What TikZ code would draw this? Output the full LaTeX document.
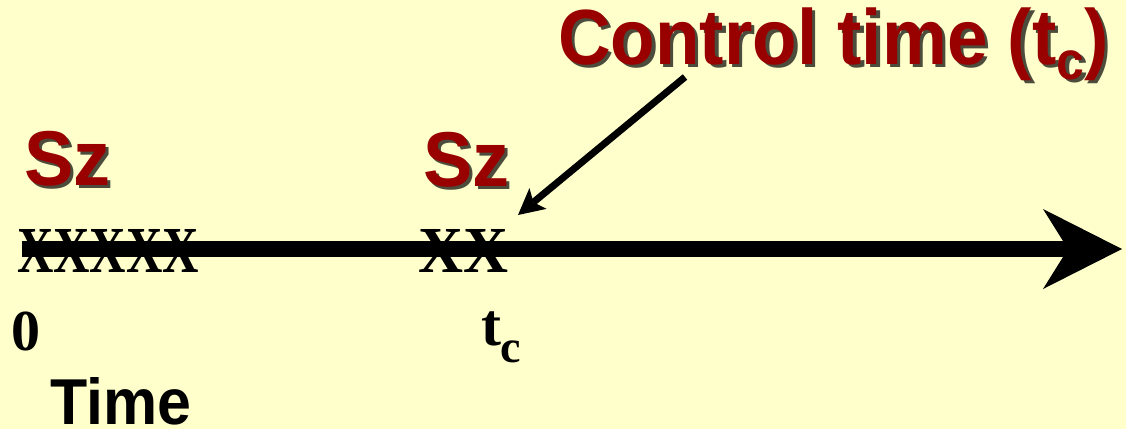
\documentclass[tikz,border=0pt]{standalone}
\usepackage{fontspec}
\setmainfont{Liberation Serif}
\newfontfamily\arialf{Liberation Sans}
\usetikzlibrary{arrows.meta}
\definecolor{bg}{HTML}{FFFFCC}
\definecolor{dred}{HTML}{990000}
\tikzset{
  lbl/.style={inner sep=0pt, outer sep=0pt, anchor=base west, text=dred, font=\arialf\bfseries},
  shd/.style={lbl, text=black, text opacity=0.7},
  blk/.style={inner sep=0pt, outer sep=0pt, anchor=base west, text=black},
  axisline/.style={line width=16pt, -{Stealth[length=79pt,width=80pt,inset=25pt,line width=0pt]}},
  pointer/.style={line width=7pt, -{Stealth[length=26pt,width=27pt,inset=6pt,line width=0pt]}},
}
\newcommand{\ctext}{\scalebox{0.96}[1.03]{\fontsize{76}{76}\selectfont Control time (t\raisebox{-15pt}{\fontsize{52}{52}\selectfont c})}}
\newcommand{\sztext}{\scalebox{1}[1.05]{\fontsize{74}{74}\selectfont Sz}}
\begin{document}
\begin{tikzpicture}[x=1pt,y=-1pt]
\useasboundingbox[fill=bg] (0,0) rectangle (1126,429);
% title
\node[shd] (ctS) at (561.5,67.5) {\ctext};
\node[lbl] (ct) at (558,64) {\ctext};
% Sz labels
\node[shd] (sz1S) at (27.5,188.5) {\sztext};
\node[lbl] (sz1) at (24,185) {\sztext};
\node[shd] (sz2S) at (426.5,189.5) {\sztext};
\node[lbl] (sz2) at (423,186) {\sztext};
% axis
\coordinate (a0) at (22,249);
\coordinate (a1) at (1122,249);
\draw[axisline] (a0) -- (a1);
% seizure marks
\node[blk, anchor=south west] (xs1) at (17,272) {\resizebox{182pt}{43pt}{\bfseries XXXXX}};
\node[blk, anchor=south west] (xs2) at (418,272) {\resizebox{90pt}{43pt}{\bfseries XX}};
% pointer
\coordinate (ptail) at (685,77);
\coordinate (phead) at (518,215);
\draw[pointer] (ptail) -- (phead);
% axis labels
\node[blk] (zero) at (12,350) {\fontsize{58}{58}\selectfont\bfseries 0};
\node[blk] (tc) at (481,345) {\fontsize{60}{60}\selectfont\bfseries t\raisebox{-17pt}{\fontsize{46}{46}\selectfont c}};
\node[blk, anchor=south west] (time) at (50,425) {\resizebox{141pt}{47pt}{\arialf\bfseries Time}};
\end{tikzpicture}
\end{document}
